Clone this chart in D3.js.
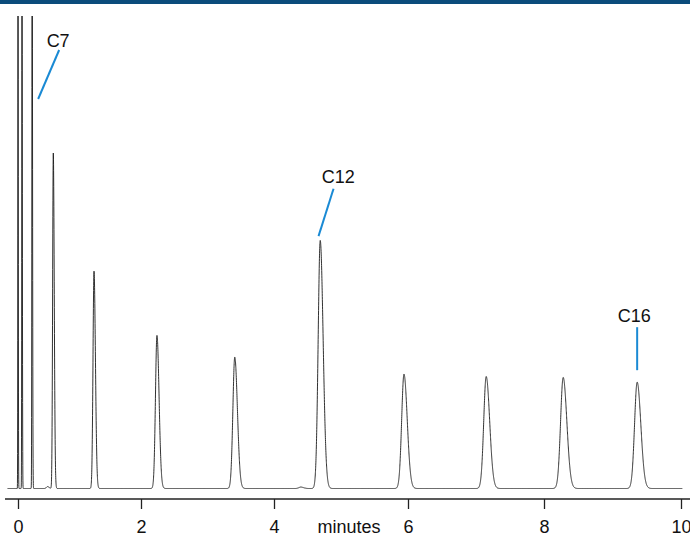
<!DOCTYPE html>
<html lang="en">
  <head>
    <meta charset="utf-8" />
    <script src="https://cdn.jsdelivr.net/npm/d3@7/dist/d3.min.js"></script>
    <title>Chromatogram</title>
    <style>
      body {
        margin: 0;
        background: #fff;
      }
      text {
        font-family: "Liberation Sans", Arial, Helvetica, sans-serif;
        fill: #111;
      }
      .trace {
        fill: none;
        stroke: #1a1a1a;
        stroke-width: 0.9;
      }
      .leader {
        stroke: #1a8ad4;
        stroke-width: 2;
      }
    </style>
  </head>
  <body>
    <div id="container"></div>

    <script type="module">
      // peak table (retention time in minutes, height in % of scale, FWHM in minutes)
      const peakTimes = [0.0, 0.065, 0.23, 0.48, 0.574, 1.236, 2.24, 3.41, 4.4, 4.69, 5.94, 7.15, 8.28, 9.36];
      const peakHeights = [140, 125, 130, 0.4, 71.0, 46.0, 32.4, 27.8, 0.3, 52.5, 24.2, 23.7, 23.5, 22.5];
      const peakWidths = [0.008, 0.01, 0.012, 0.05, 0.03, 0.045, 0.062, 0.078, 0.08, 0.085, 0.095, 0.1, 0.105, 0.105];

      // x axis ticks and their positions on the original (the time axis is not quite linear)
      const tickValues = [0, 2, 4, 6, 8, 10];
      const tickPixels = [18, 141, 274, 408, 544, 681];

      const annotations = [
        { label: "C7", peak: 2, line: [6, 83, 27, 34], text: [26, 30.5] },
        { label: "C12", peak: 9, line: [-1.7, -4.3, 13.3, -51.7], text: [18, -57] },
        { label: "C16", peak: 13, line: [0, -12, 0, -55], text: [-3, -60] },
      ];

      const width = 690;
      const height = 534;
      const plotTop = 16;

      const svg = d3.select("#container").append("svg").attr("width", width).attr("height", height);

      svg.append("rect").attr("x", 0).attr("y", 0).attr("width", width).attr("height", 4).attr("fill", "#0b4c7b");

      const x = d3.scaleLinear().domain(tickValues).range(tickPixels);
      const y = d3.scaleLinear().domain([0, 100]).range([488.5, plotTop]);

      // signal = sum of slightly tailing peaks
      function signal(t) {
        let s = 0;
        for (let i = 0; i < peakTimes.length; i++) {
          const sig = peakWidths[i] / 2.355;
          const sd = t < peakTimes[i] ? sig * 0.85 : sig * 1.2;
          const u = (t - peakTimes[i]) / sd;
          if (Math.abs(u) < 12) s += peakHeights[i] * Math.exp(-0.5 * u * u);
        }
        return s;
      }

      const times = d3.range(-0.17, 10.02, 0.001).concat(peakTimes).sort((a, b) => a - b);
      const trace = times.map((t) => [t, signal(t)]);

      svg
        .append("clipPath")
        .attr("id", "clip")
        .append("rect")
        .attr("x", 0)
        .attr("y", plotTop)
        .attr("width", width)
        .attr("height", 480);

      const line = d3
        .line()
        .x((d) => x(d[0]))
        .y((d) => y(d[1]));

      svg.append("path").datum(trace).attr("class", "trace").attr("clip-path", "url(#clip)").attr("d", line);

      // axis
      const axisY = 499;
      const gx = svg
        .append("g")
        .attr("transform", `translate(0,${axisY})`)
        .call(d3.axisBottom(x).tickValues(tickValues).tickFormat(d3.format("d")).tickSize(10).tickPadding(11.2));
      gx.attr("font-size", null).attr("font-family", null);
      gx.select(".domain").remove();
      gx.selectAll(".tick line").attr("stroke", "#222").attr("stroke-width", 1.3);
      gx.selectAll(".tick text").style("font-size", "18px").attr("fill", "#111");
      gx.append("line").attr("x1", 5).attr("x2", width).attr("y1", 0).attr("y2", 0).attr("stroke", "#222").attr("stroke-width", 1.3);

      svg
        .append("text")
        .attr("x", x(5.12))
        .attr("y", 533)
        .attr("text-anchor", "middle")
        .style("font-size", "18px")
        .text("minutes");

      // peak labels
      annotations.forEach((a) => {
        const px = x(peakTimes[a.peak]);
        const py = y(Math.min(peakHeights[a.peak], 100));
        svg
          .append("line")
          .attr("class", "leader")
          .attr("x1", px + a.line[0])
          .attr("y1", py + a.line[1])
          .attr("x2", px + a.line[2])
          .attr("y2", py + a.line[3]);
        svg
          .append("text")
          .attr("x", px + a.text[0])
          .attr("y", py + a.text[1])
          .attr("text-anchor", "middle")
          .style("font-size", "18px")
          .text(a.label);
      });
    </script>
  </body>
</html>
